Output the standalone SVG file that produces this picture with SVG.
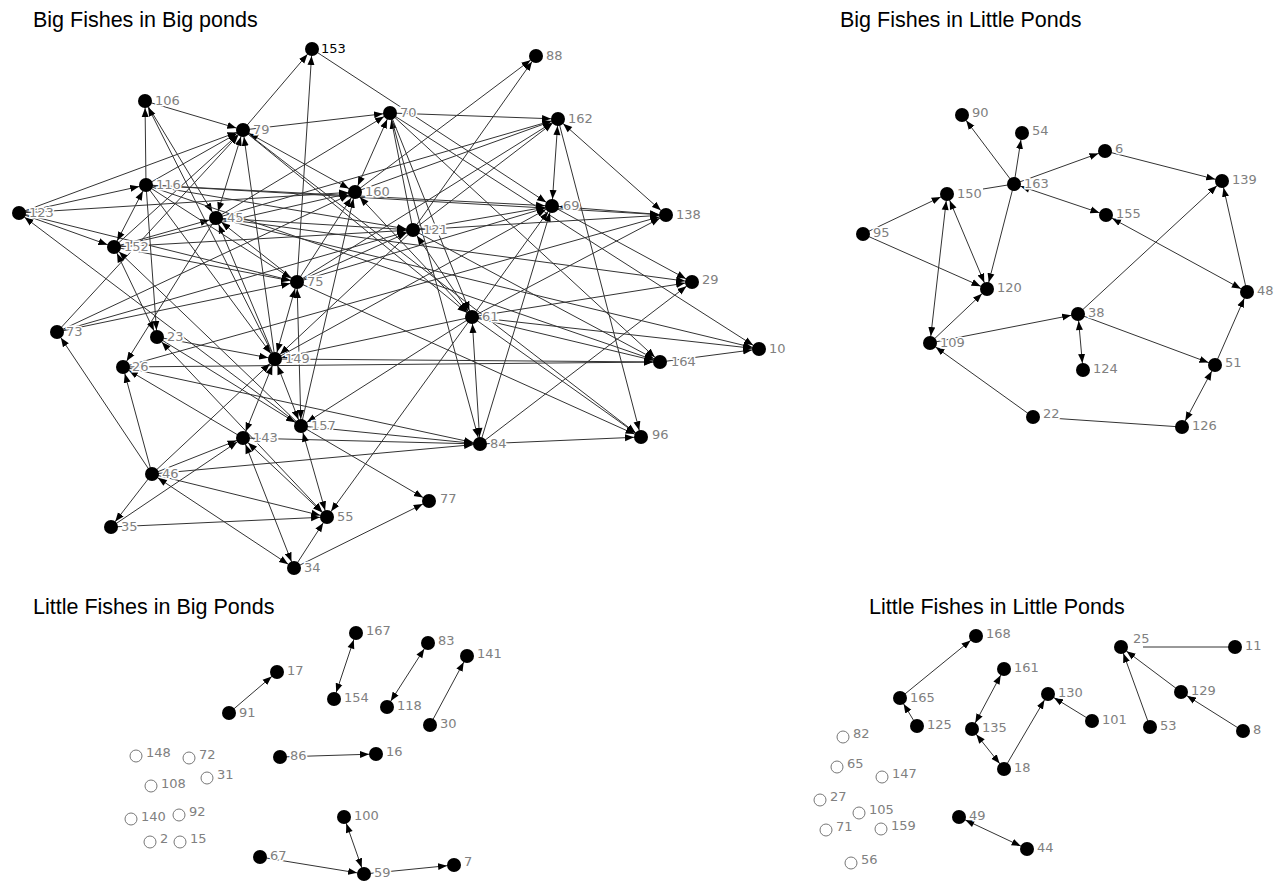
<svg xmlns="http://www.w3.org/2000/svg" width="1274" height="884" viewBox="0 0 1274 884">
<defs>
<marker id="ah" markerUnits="userSpaceOnUse" markerWidth="17" markerHeight="8" viewBox="0 0 17 8" refX="16" refY="4" orient="auto"><path d="M0,0.5 L9,4 L0,7.5 z" fill="#000"/></marker>
<marker id="as" markerUnits="userSpaceOnUse" markerWidth="17" markerHeight="8" viewBox="0 0 17 8" refX="0" refY="4" orient="auto"><path d="M16,0.5 L7,4 L16,7.5 z" fill="#000"/></marker>
<style>
.e line{stroke:#333;stroke-width:1;marker-end:url(#ah)}
.e line.b{marker-start:url(#as)}
.e line.p{marker-end:none}
.nd{fill:#000}
.op{fill:#fff;stroke:#777;stroke-width:1}
.lb{font-family:"DejaVu Sans",Verdana,sans-serif;font-size:13px;fill:#808080;stroke:#fff;stroke-width:3;paint-order:stroke}
.lk{fill:#000}
.tt{font-family:"Liberation Sans",Arial,sans-serif;font-size:21.5px;fill:#000}
</style>
</defs>
<rect width="1274" height="884" fill="#fff"/>
<g id="titles">
<text class="tt" x="33" y="27">Big Fishes in Big ponds</text>
<text class="tt" x="840" y="27">Big Fishes in Little Ponds</text>
<text class="tt" x="33" y="614">Little Fishes in Big Ponds</text>
<text class="tt" x="869" y="614">Little Fishes in Little Ponds</text>
</g>
<g id="connectors" class="e">
<line x1="243" y1="130" x2="312" y2="49"/>
<line x1="297" y1="282" x2="312" y2="49"/>
<line x1="312" y1="49" x2="552" y2="206"/>
<line x1="145" y1="101" x2="243" y2="130"/>
<line x1="146" y1="185" x2="145" y2="101"/>
<line x1="145" y1="101" x2="216" y2="218"/>
<line x1="275" y1="359" x2="145" y2="101"/>
<line x1="243" y1="130" x2="390" y2="113"/>
<line x1="390" y1="113" x2="558" y2="119"/>
<line x1="19" y1="213" x2="243" y2="130"/>
<line x1="19" y1="213" x2="146" y2="185"/>
<line x1="19" y1="213" x2="114" y2="247"/>
<line x1="301" y1="426" x2="19" y2="213"/>
<line x1="19" y1="213" x2="355" y2="192"/>
<line x1="146" y1="185" x2="243" y2="130"/>
<line x1="146" y1="185" x2="666" y2="215"/>
<line x1="146" y1="185" x2="413" y2="230"/>
<line x1="114" y1="247" x2="243" y2="130"/>
<line class="b" x1="216" y1="218" x2="243" y2="130"/>
<line x1="275" y1="359" x2="243" y2="130"/>
<line class="b" x1="243" y1="130" x2="355" y2="192"/>
<line x1="243" y1="130" x2="641" y2="437"/>
<line x1="355" y1="192" x2="536" y2="56"/>
<line x1="413" y1="230" x2="536" y2="56"/>
<line class="b" x1="355" y1="192" x2="390" y2="113"/>
<line x1="413" y1="230" x2="390" y2="113"/>
<line x1="390" y1="113" x2="472" y2="317"/>
<line x1="390" y1="113" x2="660" y2="362"/>
<line x1="390" y1="113" x2="759" y2="349"/>
<line x1="390" y1="113" x2="480" y2="444"/>
<line x1="558" y1="119" x2="641" y2="437"/>
<line x1="297" y1="282" x2="641" y2="437"/>
<line x1="472" y1="317" x2="641" y2="437"/>
<line x1="480" y1="444" x2="641" y2="437"/>
<line x1="355" y1="192" x2="558" y2="119"/>
<line x1="413" y1="230" x2="558" y2="119"/>
<line x1="297" y1="282" x2="558" y2="119"/>
<line x1="216" y1="218" x2="558" y2="119"/>
<line class="b" x1="558" y1="119" x2="552" y2="206"/>
<line class="b" x1="558" y1="119" x2="666" y2="215"/>
<line x1="480" y1="444" x2="552" y2="206"/>
<line class="b" x1="480" y1="444" x2="472" y2="317"/>
<line x1="480" y1="444" x2="692" y2="282"/>
<line x1="146" y1="185" x2="552" y2="206"/>
<line x1="297" y1="282" x2="552" y2="206"/>
<line x1="413" y1="230" x2="552" y2="206"/>
<line class="b" x1="552" y1="206" x2="666" y2="215"/>
<line x1="552" y1="206" x2="692" y2="282"/>
<line x1="413" y1="230" x2="666" y2="215"/>
<line x1="123" y1="367" x2="666" y2="215"/>
<line x1="472" y1="317" x2="692" y2="282"/>
<line x1="216" y1="218" x2="692" y2="282"/>
<line x1="216" y1="218" x2="759" y2="349"/>
<line x1="472" y1="317" x2="759" y2="349"/>
<line x1="660" y1="362" x2="759" y2="349"/>
<line x1="123" y1="367" x2="660" y2="362"/>
<line x1="275" y1="359" x2="660" y2="362"/>
<line x1="472" y1="317" x2="660" y2="362"/>
<line x1="146" y1="185" x2="660" y2="362"/>
<line x1="413" y1="230" x2="660" y2="362"/>
<line class="b" x1="413" y1="230" x2="472" y2="317"/>
<line class="b" x1="355" y1="192" x2="472" y2="317"/>
<line x1="243" y1="130" x2="472" y2="317"/>
<line x1="472" y1="317" x2="327" y2="517"/>
<line x1="472" y1="317" x2="301" y2="426"/>
<line x1="472" y1="317" x2="552" y2="206"/>
<line x1="472" y1="317" x2="666" y2="215"/>
<line x1="216" y1="218" x2="413" y2="230"/>
<line x1="114" y1="247" x2="413" y2="230"/>
<line x1="297" y1="282" x2="413" y2="230"/>
<line x1="413" y1="230" x2="275" y2="359"/>
<line x1="57" y1="332" x2="355" y2="192"/>
<line x1="301" y1="426" x2="355" y2="192"/>
<line x1="297" y1="282" x2="355" y2="192"/>
<line x1="114" y1="247" x2="355" y2="192"/>
<line x1="114" y1="247" x2="216" y2="218"/>
<line x1="216" y1="218" x2="123" y2="367"/>
<line x1="297" y1="282" x2="216" y2="218"/>
<line x1="275" y1="359" x2="216" y2="218"/>
<line x1="216" y1="218" x2="390" y2="113"/>
<line class="b" x1="297" y1="282" x2="275" y2="359"/>
<line x1="157" y1="337" x2="275" y2="359"/>
<line class="b" x1="275" y1="359" x2="301" y2="426"/>
<line class="b" x1="275" y1="359" x2="243" y2="438"/>
<line x1="152" y1="474" x2="275" y2="359"/>
<line x1="472" y1="317" x2="275" y2="359"/>
<line x1="275" y1="359" x2="552" y2="206"/>
<line x1="123" y1="367" x2="480" y2="444"/>
<line x1="301" y1="426" x2="480" y2="444"/>
<line x1="243" y1="438" x2="480" y2="444"/>
<line x1="152" y1="474" x2="480" y2="444"/>
<line x1="157" y1="337" x2="301" y2="426"/>
<line class="b" x1="301" y1="426" x2="297" y2="282"/>
<line class="b" x1="301" y1="426" x2="327" y2="517"/>
<line x1="301" y1="426" x2="429" y2="501"/>
<line x1="301" y1="426" x2="114" y2="247"/>
<line x1="152" y1="474" x2="243" y2="438"/>
<line x1="111" y1="527" x2="243" y2="438"/>
<line class="b" x1="243" y1="438" x2="327" y2="517"/>
<line class="b" x1="243" y1="438" x2="294" y2="568"/>
<line x1="243" y1="438" x2="123" y2="367"/>
<line class="b" x1="157" y1="337" x2="327" y2="517"/>
<line x1="152" y1="474" x2="123" y2="367"/>
<line x1="152" y1="474" x2="57" y2="332"/>
<line x1="152" y1="474" x2="327" y2="517"/>
<line class="b" x1="152" y1="474" x2="294" y2="568"/>
<line x1="152" y1="474" x2="111" y2="527"/>
<line x1="111" y1="527" x2="327" y2="517"/>
<line x1="294" y1="568" x2="327" y2="517"/>
<line x1="294" y1="568" x2="429" y2="501"/>
<line x1="57" y1="332" x2="243" y2="130"/>
<line x1="57" y1="332" x2="413" y2="230"/>
<line x1="57" y1="332" x2="297" y2="282"/>
<line x1="114" y1="247" x2="297" y2="282"/>
<line x1="146" y1="185" x2="297" y2="282"/>
<line x1="19" y1="213" x2="297" y2="282"/>
<line class="b" x1="146" y1="185" x2="114" y2="247"/>
<line x1="146" y1="185" x2="157" y2="337"/>
<line class="b" x1="114" y1="247" x2="157" y2="337"/>
<line x1="146" y1="185" x2="275" y2="359"/>
<!-- Big fishes in little ponds -->
<line x1="1014" y1="184" x2="962" y2="115"/>
<line x1="1014" y1="184" x2="1022" y2="133"/>
<line x1="1014" y1="184" x2="1105" y2="151"/>
<line x1="1105" y1="151" x2="1222" y2="181"/>
<line class="p" x1="1014" y1="184" x2="983" y2="189"/>
<line class="b" x1="1014" y1="184" x2="1106" y2="215"/>
<line x1="1014" y1="184" x2="987" y2="289"/>
<line x1="863" y1="234" x2="947" y2="194"/>
<line x1="863" y1="234" x2="987" y2="289"/>
<line class="b" x1="947" y1="194" x2="987" y2="289"/>
<line class="b" x1="947" y1="194" x2="930" y2="343"/>
<line x1="930" y1="343" x2="987" y2="289"/>
<line x1="930" y1="343" x2="1078" y2="314"/>
<line x1="1078" y1="314" x2="1222" y2="181"/>
<line class="b" x1="1078" y1="314" x2="1083" y2="370"/>
<line x1="1078" y1="314" x2="1215" y2="365"/>
<line x1="1215" y1="365" x2="1247" y2="292"/>
<line x1="1247" y1="292" x2="1222" y2="181"/>
<line class="b" x1="1247" y1="292" x2="1106" y2="215"/>
<line class="b" x1="1215" y1="365" x2="1182" y2="427"/>
<line x1="1033" y1="417" x2="930" y2="343"/>
<line class="p" x1="1182" y1="427" x2="1050" y2="418"/>
<!-- Little fishes in big ponds -->
<line x1="229" y1="713" x2="277" y2="672"/>
<line class="b" x1="356" y1="633" x2="334" y2="699"/>
<line class="b" x1="428" y1="643" x2="387" y2="707"/>
<line x1="430" y1="725" x2="467" y2="656"/>
<line x1="280" y1="757" x2="376" y2="754"/>
<line class="b" x1="344" y1="817" x2="364" y2="874"/>
<line x1="260" y1="857" x2="364" y2="874"/>
<line x1="364" y1="874" x2="454" y2="865"/>
<!-- Little fishes in little ponds -->
<line x1="900" y1="698" x2="976" y2="636"/>
<line x1="917" y1="726" x2="900" y2="698"/>
<line class="b" x1="1004" y1="669" x2="972" y2="729"/>
<line class="b" x1="972" y1="729" x2="1004" y2="769"/>
<line x1="1004" y1="769" x2="1048" y2="694"/>
<line x1="1092" y1="721" x2="1048" y2="694"/>
<line class="p" x1="1235" y1="647" x2="1143" y2="647"/>
<line x1="1150" y1="727" x2="1121" y2="647"/>
<line x1="1181" y1="692" x2="1121" y2="647"/>
<line x1="1243" y1="731" x2="1181" y2="692"/>
<line class="b" x1="959" y1="817" x2="1027" y2="849"/>
</g>
<g id="bb-153"><circle class="nd" cx="312" cy="49" r="7"/><text class="lb lk" x="321" y="53">153</text></g>
<g id="bb-88"><circle class="nd" cx="536" cy="56" r="7"/><text class="lb" x="546" y="60">88</text></g>
<g id="bb-106"><circle class="nd" cx="145" cy="101" r="7"/><text class="lb" x="155" y="105">106</text></g>
<g id="bb-79"><circle class="nd" cx="243" cy="130" r="7"/><text class="lb" x="253" y="134">79</text></g>
<g id="bb-70"><circle class="nd" cx="390" cy="113" r="7"/><text class="lb" x="400" y="117">70</text></g>
<g id="bb-162"><circle class="nd" cx="558" cy="119" r="7"/><text class="lb" x="568" y="123">162</text></g>
<g id="bb-116"><circle class="nd" cx="146" cy="185" r="7"/><text class="lb" x="156" y="189">116</text></g>
<g id="bb-160"><circle class="nd" cx="355" cy="192" r="7"/><text class="lb" x="365" y="196">160</text></g>
<g id="bb-123"><circle class="nd" cx="19" cy="213" r="7"/><text class="lb" x="29" y="217">123</text></g>
<g id="bb-145"><circle class="nd" cx="216" cy="218" r="7"/><text class="lb" x="227" y="222">45</text></g>
<g id="bb-169"><circle class="nd" cx="552" cy="206" r="7"/><text class="lb" x="563" y="210">69</text></g>
<g id="bb-138"><circle class="nd" cx="666" cy="215" r="7"/><text class="lb" x="676" y="219">138</text></g>
<g id="bb-121"><circle class="nd" cx="413" cy="230" r="7"/><text class="lb" x="423" y="234">121</text></g>
<g id="bb-152"><circle class="nd" cx="114" cy="247" r="7"/><text class="lb" x="124" y="251">152</text></g>
<g id="bb-75"><circle class="nd" cx="297" cy="282" r="7"/><text class="lb" x="307" y="286">75</text></g>
<g id="bb-29"><circle class="nd" cx="692" cy="282" r="7"/><text class="lb" x="702" y="284">29</text></g>
<g id="bb-73"><circle class="nd" cx="57" cy="332" r="7"/><text class="lb" x="66" y="336">73</text></g>
<g id="bb-161"><circle class="nd" cx="472" cy="317" r="7"/><text class="lb" x="482" y="321">61</text></g>
<g id="bb-23"><circle class="nd" cx="157" cy="337" r="7"/><text class="lb" x="167" y="341">23</text></g>
<g id="bb-126"><circle class="nd" cx="123" cy="367" r="7"/><text class="lb" x="132" y="371">26</text></g>
<g id="bb-149"><circle class="nd" cx="275" cy="359" r="7"/><text class="lb" x="285" y="363">149</text></g>
<g id="bb-164"><circle class="nd" cx="660" cy="362" r="7"/><text class="lb" x="671" y="366">164</text></g>
<g id="bb-10"><circle class="nd" cx="759" cy="349" r="7"/><text class="lb" x="769" y="353">10</text></g>
<g id="bb-157"><circle class="nd" cx="301" cy="426" r="7"/><text class="lb" x="311" y="430">157</text></g>
<g id="bb-143"><circle class="nd" cx="243" cy="438" r="7"/><text class="lb" x="253" y="442">143</text></g>
<g id="bb-84"><circle class="nd" cx="480" cy="444" r="7"/><text class="lb" x="490" y="448">84</text></g>
<g id="bb-96"><circle class="nd" cx="641" cy="437" r="7"/><text class="lb" x="652" y="439">96</text></g>
<g id="bb-146"><circle class="nd" cx="152" cy="474" r="7"/><text class="lb" x="162" y="478">46</text></g>
<g id="bb-77"><circle class="nd" cx="429" cy="501" r="7"/><text class="lb" x="440" y="503">77</text></g>
<g id="bb-55"><circle class="nd" cx="327" cy="517" r="7"/><text class="lb" x="337" y="521">55</text></g>
<g id="bb-135"><circle class="nd" cx="111" cy="527" r="7"/><text class="lb" x="121" y="531">35</text></g>
<g id="bb-34"><circle class="nd" cx="294" cy="568" r="7"/><text class="lb" x="304" y="572">34</text></g>
<g id="bl-90"><circle class="nd" cx="962" cy="115" r="7"/><text class="lb" x="972" y="117">90</text></g>
<g id="bl-54"><circle class="nd" cx="1022" cy="133" r="7"/><text class="lb" x="1032" y="135">54</text></g>
<g id="bl-6"><circle class="nd" cx="1105" cy="151" r="7"/><text class="lb" x="1115" y="153">6</text></g>
<g id="bl-139"><circle class="nd" cx="1222" cy="181" r="7"/><text class="lb" x="1232" y="184">139</text></g>
<g id="bl-163"><circle class="nd" cx="1014" cy="184" r="7"/><text class="lb" x="1024" y="188">163</text></g>
<g id="bl-150"><circle class="nd" cx="947" cy="194" r="7"/><text class="lb" x="957" y="198">150</text></g>
<g id="bl-155"><circle class="nd" cx="1106" cy="215" r="7"/><text class="lb" x="1116" y="218">155</text></g>
<g id="bl-95"><circle class="nd" cx="863" cy="234" r="7"/><text class="lb" x="873" y="237">95</text></g>
<g id="bl-120"><circle class="nd" cx="987" cy="289" r="7"/><text class="lb" x="997" y="292">120</text></g>
<g id="bl-48"><circle class="nd" cx="1247" cy="292" r="7"/><text class="lb" x="1257" y="295">48</text></g>
<g id="bl-38"><circle class="nd" cx="1078" cy="314" r="7"/><text class="lb" x="1088" y="317">38</text></g>
<g id="bl-109"><circle class="nd" cx="930" cy="343" r="7"/><text class="lb" x="940" y="347">109</text></g>
<g id="bl-124"><circle class="nd" cx="1083" cy="370" r="7"/><text class="lb" x="1093" y="373">124</text></g>
<g id="bl-51"><circle class="nd" cx="1215" cy="365" r="7"/><text class="lb" x="1225" y="367">51</text></g>
<g id="bl-22"><circle class="nd" cx="1033" cy="417" r="7"/><text class="lb" x="1043" y="418">22</text></g>
<g id="bl-126"><circle class="nd" cx="1182" cy="427" r="7"/><text class="lb" x="1192" y="430">126</text></g>
<g id="lb-167"><circle class="nd" cx="356" cy="633" r="7"/><text class="lb" x="366" y="635">167</text></g>
<g id="lb-83"><circle class="nd" cx="428" cy="643" r="7"/><text class="lb" x="438" y="645">83</text></g>
<g id="lb-141"><circle class="nd" cx="467" cy="656" r="7"/><text class="lb" x="477" y="658">141</text></g>
<g id="lb-17"><circle class="nd" cx="277" cy="672" r="7"/><text class="lb" x="287" y="675">17</text></g>
<g id="lb-154"><circle class="nd" cx="334" cy="699" r="7"/><text class="lb" x="344" y="702">154</text></g>
<g id="lb-118"><circle class="nd" cx="387" cy="707" r="7"/><text class="lb" x="397" y="710">118</text></g>
<g id="lb-91"><circle class="nd" cx="229" cy="713" r="7"/><text class="lb" x="239" y="717">91</text></g>
<g id="lb-30"><circle class="nd" cx="430" cy="725" r="7"/><text class="lb" x="440" y="728">30</text></g>
<g id="lb-86"><circle class="nd" cx="280" cy="757" r="7"/><text class="lb" x="290" y="760">86</text></g>
<g id="lb-16"><circle class="nd" cx="376" cy="754" r="7"/><text class="lb" x="386" y="756">16</text></g>
<g id="lb-100"><circle class="nd" cx="344" cy="817" r="7"/><text class="lb" x="354" y="820">100</text></g>
<g id="lb-67"><circle class="nd" cx="260" cy="857" r="7"/><text class="lb" x="270" y="860">67</text></g>
<g id="lb-59"><circle class="nd" cx="364" cy="874" r="7"/><text class="lb" x="374" y="877">59</text></g>
<g id="lb-7"><circle class="nd" cx="454" cy="865" r="7"/><text class="lb" x="464" y="866">7</text></g>
<g id="lb-148"><circle class="op" cx="136" cy="756" r="6"/><text class="lb" x="146" y="757">148</text></g>
<g id="lb-72"><circle class="op" cx="189" cy="758" r="6"/><text class="lb" x="199" y="759">72</text></g>
<g id="lb-31"><circle class="op" cx="207" cy="778" r="6"/><text class="lb" x="217" y="779">31</text></g>
<g id="lb-108"><circle class="op" cx="151" cy="786" r="6"/><text class="lb" x="161" y="788">108</text></g>
<g id="lb-140"><circle class="op" cx="131" cy="819" r="6"/><text class="lb" x="141" y="821">140</text></g>
<g id="lb-92"><circle class="op" cx="179" cy="815" r="6"/><text class="lb" x="189" y="816">92</text></g>
<g id="lb-2"><circle class="op" cx="150" cy="842" r="6"/><text class="lb" x="160" y="843">2</text></g>
<g id="lb-15"><circle class="op" cx="180" cy="842" r="6"/><text class="lb" x="190" y="843">15</text></g>
<g id="ll-168"><circle class="nd" cx="976" cy="636" r="7"/><text class="lb" x="986" y="638">168</text></g>
<g id="ll-25"><circle class="nd" cx="1121" cy="647" r="7"/><text class="lb" x="1133" y="643">25</text></g>
<g id="ll-11"><circle class="nd" cx="1235" cy="647" r="7"/><text class="lb" x="1245" y="650">11</text></g>
<g id="ll-161"><circle class="nd" cx="1004" cy="669" r="7"/><text class="lb" x="1014" y="672">161</text></g>
<g id="ll-165"><circle class="nd" cx="900" cy="698" r="7"/><text class="lb" x="910" y="702">165</text></g>
<g id="ll-130"><circle class="nd" cx="1048" cy="694" r="7"/><text class="lb" x="1058" y="697">130</text></g>
<g id="ll-129"><circle class="nd" cx="1181" cy="692" r="7"/><text class="lb" x="1191" y="695">129</text></g>
<g id="ll-125"><circle class="nd" cx="917" cy="726" r="7"/><text class="lb" x="927" y="729">125</text></g>
<g id="ll-101"><circle class="nd" cx="1092" cy="721" r="7"/><text class="lb" x="1102" y="724">101</text></g>
<g id="ll-135"><circle class="nd" cx="972" cy="729" r="7"/><text class="lb" x="982" y="732">135</text></g>
<g id="ll-53"><circle class="nd" cx="1150" cy="727" r="7"/><text class="lb" x="1160" y="730">53</text></g>
<g id="ll-8"><circle class="nd" cx="1243" cy="731" r="7"/><text class="lb" x="1253" y="734">8</text></g>
<g id="ll-18"><circle class="nd" cx="1004" cy="769" r="7"/><text class="lb" x="1014" y="772">18</text></g>
<g id="ll-49"><circle class="nd" cx="959" cy="817" r="7"/><text class="lb" x="969" y="820">49</text></g>
<g id="ll-44"><circle class="nd" cx="1027" cy="849" r="7"/><text class="lb" x="1037" y="852">44</text></g>
<g id="ll-82"><circle class="op" cx="843" cy="737" r="6"/><text class="lb" x="853" y="738">82</text></g>
<g id="ll-65"><circle class="op" cx="837" cy="767" r="6"/><text class="lb" x="847" y="768">65</text></g>
<g id="ll-147"><circle class="op" cx="882" cy="777" r="6"/><text class="lb" x="892" y="778">147</text></g>
<g id="ll-27"><circle class="op" cx="820" cy="800" r="6"/><text class="lb" x="830" y="801">27</text></g>
<g id="ll-105"><circle class="op" cx="859" cy="813" r="6"/><text class="lb" x="869" y="814">105</text></g>
<g id="ll-71"><circle class="op" cx="826" cy="830" r="6"/><text class="lb" x="836" y="831">71</text></g>
<g id="ll-159"><circle class="op" cx="881" cy="829" r="6"/><text class="lb" x="891" y="830">159</text></g>
<g id="ll-56"><circle class="op" cx="851" cy="863" r="6"/><text class="lb" x="861" y="864">56</text></g>
</svg>
